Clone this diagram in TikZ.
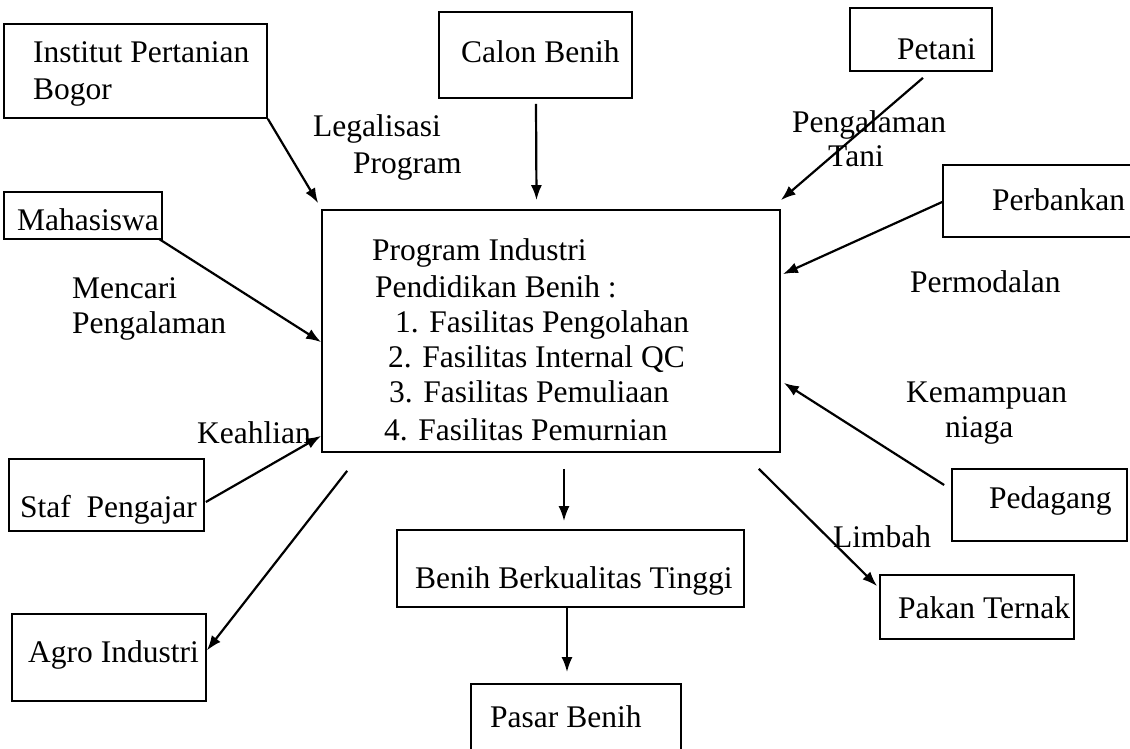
\documentclass[tikz,border=0pt]{standalone}
\usepackage{fontspec}
\setmainfont{Liberation Serif}
\usetikzlibrary{arrows.meta}
\begin{document}
\begin{tikzpicture}[x=1pt,y=-1pt,
  box/.style={draw,line width=1.7pt,inner sep=0pt,rectangle},
  txt/.style={anchor=base west,inner sep=0pt,font=\fontsize{31.5}{36}\selectfont},
  arr/.style={line width=2.2pt,-{Latex[length=15pt,width=11pt]}},
  ln/.style={line width=2pt}]
\clip (0,0) rectangle (1130,749);
\fill[white] (0,0) rectangle (1130,749);
% boxes (by corners)
\node[box,minimum width=263pt,minimum height=94pt] (ipb) at (135.5,71) {};
\node[box,minimum width=193pt,minimum height=86pt] (calon) at (535.5,55) {};
\node[box,minimum width=142pt,minimum height=63pt] (petani) at (921,39.5) {};
\node[box,minimum width=200pt,minimum height=72pt] (bank) at (1043,201) {};
\node[box,minimum width=158pt,minimum height=47pt] (maha) at (83,215.5) {};
\node[box,minimum width=458pt,minimum height=242pt] (prog) at (551,331) {};
\node[box,minimum width=195pt,minimum height=72pt] (staf) at (106.5,495) {};
\node[box,minimum width=194pt,minimum height=87pt] (agro) at (109,657.5) {};
\node[box,minimum width=347pt,minimum height=77pt] (benih) at (570.5,568.5) {};
\node[box,minimum width=210pt,minimum height=90pt] (pasar) at (576,729) {};
\node[box,minimum width=194pt,minimum height=64pt] (pakan) at (977,607) {};
\node[box,minimum width=175pt,minimum height=72pt] (dagang) at (1039.5,505) {};
% box texts
\node[txt] (ipbA) at (33,63) {Institut Pertanian};
\node[txt] (ipbB) at (33,100) {Bogor};
\node[txt] (calonT) at (461,63) {Calon Benih};
\node[txt] (petaniT) at (897,60) {Petani};
\node[txt] (bankT) at (992,210) {Perbankan};
\node[txt] (mahaT) at (17,230) {Mahasiswa};
\node[txt] (progA) at (372,260) {Program Industri};
\node[txt] (progB) at (375,297) {Pendidikan Benih :};
\node[txt] (progC) at (395,332) {1. Fasilitas Pengolahan};
\node[txt] (progD) at (388,367) {2. Fasilitas Internal QC};
\node[txt] (progE) at (389,402) {3. Fasilitas Pemuliaan};
\node[txt] (progF) at (384,440) {4. Fasilitas Pemurnian};
\node[txt] (stafT) at (20,517) {Staf\ \ Pengajar};
\node[txt] (agroT) at (28,662) {Agro Industri};
\node[txt] (benihT) at (415,588) {Benih Berkualitas Tinggi};
\node[txt] (pasarT) at (490,727) {Pasar Benih};
\node[txt] (pakanT) at (898,618) {Pakan Ternak};
\node[txt] (dagangT) at (989,508) {Pedagang};
% connector labels
\node[txt] (lA) at (313,137) {Legalisasi};
\node[txt] (lB) at (353,173) {Program};
\node[txt] (pA) at (792,133) {Pengalaman};
\node[txt] (pB) at (828,167) {Tani};
\node[txt] (mA) at (72,298) {Mencari};
\node[txt] (mB) at (72,333) {Pengalaman};
\node[txt] (kA) at (197,443) {Keahlian};
\node[txt] (permod) at (910,292) {Permodalan};
\node[txt] (kemA) at (906,402) {Kemampuan};
\node[txt] (kemB) at (945,437) {niaga};
\node[txt] (limb) at (833,547) {Limbah};
% connectors
\draw[arr] (ipb.south east) -- ([shift={(-3,-6)}]prog.north west);
\draw[arr] ([shift={(0.5,5)}]calon.south) -- ([shift={(-14.5,-9)}]prog.north);
\draw[arr] ([shift={(2,6)}]petani.south) -- ([shift={(0,-9)}]prog.north east);
\draw[arr] ([shift={(0,1)}]bank.west) -- ([shift={(2,65)}]prog.north east);
\draw[arr] ([shift={(-4,-1)}]maha.south east) -- ([shift={(0,133)}]prog.north west);
\draw[arr] ([shift={(1,7)}]staf.east) -- ([shift={(0,-17)}]prog.south west);
\draw[arr] ([shift={(26,18)}]prog.south west) -- ([shift={(0,-7)}]agro.east);
\draw[arr] ([shift={(13,16)}]prog.south) -- ([shift={(-6.5,-8)}]benih.north);
\draw[arr] ([shift={(-3.5,0)}]benih.south) -- ([shift={(-9,-11)}]pasar.north);
\draw[arr] ([shift={(-22,16)}]prog.south east) -- ([shift={(-2,12)}]pakan.north west);
\draw[arr] ([shift={(-7,-20)}]dagang.west) -- ([shift={(3,-70)}]prog.south east);
\end{tikzpicture}
\end{document}
